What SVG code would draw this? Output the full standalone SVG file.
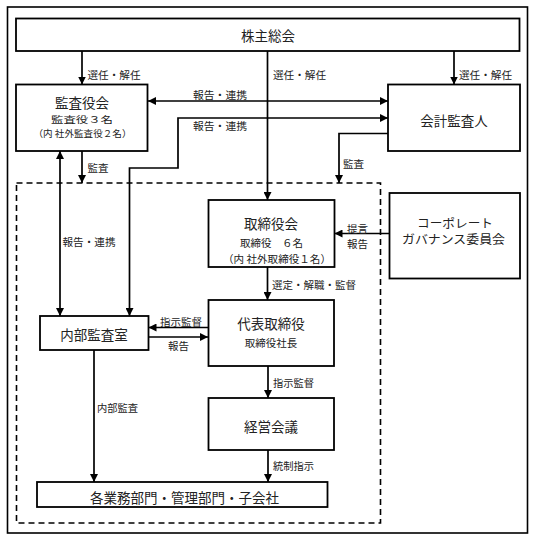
<svg xmlns="http://www.w3.org/2000/svg" width="535" height="542" viewBox="0 0 535 542">
<style>
.box{fill:#fff;stroke:#000;stroke-width:1.8}
.frame{fill:#fff;stroke:#000;stroke-width:1.6}
.dash{fill:none;stroke:#000;stroke-width:1.6;stroke-dasharray:6 4}
.ln{fill:none;stroke:#000;stroke-width:1.7}
text{font-family:"Noto Sans CJK JP","Noto Sans",sans-serif;fill:#222;dominant-baseline:central}
.t{font-size:13.5px;text-anchor:middle}
.s{font-size:10.5px;text-anchor:middle}
.l{font-size:10.5px}
</style>
<defs>
<marker id="ah" viewBox="0 0 10 10" refX="10" refY="5" markerWidth="8" markerHeight="8" markerUnits="userSpaceOnUse" orient="auto-start-reverse">
<path d="M0,0 L10,5 L0,10 z" fill="#000"/>
</marker>
</defs>
<rect class="frame" x="7.5" y="7" width="520" height="526"/>
<rect class="dash" x="16.5" y="183" width="364" height="340"/>

<g id="connectors">
<line class="ln" x1="82" y1="51" x2="82" y2="84.5" marker-end="url(#ah)"/>
<line class="ln" x1="267.5" y1="51" x2="267.5" y2="200" marker-end="url(#ah)"/>
<line class="ln" x1="454" y1="51" x2="454" y2="84.5" marker-end="url(#ah)"/>
<line class="ln" x1="148" y1="101" x2="388" y2="101" marker-start="url(#ah)" marker-end="url(#ah)"/>
<polyline class="ln" points="129.5,316 129.5,168 178,168 178,118 388,118" marker-start="url(#ah)" marker-end="url(#ah)"/>
<line class="ln" x1="60" y1="151" x2="60" y2="316" marker-start="url(#ah)" marker-end="url(#ah)"/>
<line class="ln" x1="82" y1="151" x2="82" y2="183" marker-end="url(#ah)"/>
<polyline class="ln" points="388,133.5 339,133.5 339,183" marker-end="url(#ah)"/>
<line class="ln" x1="389" y1="233.5" x2="334.5" y2="233.5" marker-end="url(#ah)"/>
<line class="ln" x1="267.5" y1="267" x2="267.5" y2="300" marker-end="url(#ah)"/>
<line class="ln" x1="208" y1="327.5" x2="148.5" y2="327.5" marker-end="url(#ah)"/>
<line class="ln" x1="148.5" y1="337" x2="208" y2="337" marker-end="url(#ah)"/>
<line class="ln" x1="268" y1="366" x2="268" y2="398" marker-end="url(#ah)"/>
<line class="ln" x1="268" y1="450" x2="268" y2="482" marker-end="url(#ah)"/>
<line class="ln" x1="94" y1="350" x2="94" y2="482" marker-end="url(#ah)"/>
<text class="l" x="87.5" y="74" textLength="53" lengthAdjust="spacingAndGlyphs">選任・解任</text>
<text class="l" x="273" y="74" textLength="53" lengthAdjust="spacingAndGlyphs">選任・解任</text>
<text class="l" x="459" y="74" textLength="53" lengthAdjust="spacingAndGlyphs">選任・解任</text>
<text class="l" x="193" y="94" textLength="54" lengthAdjust="spacingAndGlyphs">報告・連携</text>
<text class="l" x="193" y="125" textLength="54" lengthAdjust="spacingAndGlyphs">報告・連携</text>
<text class="l" x="87.5" y="167">監査</text>
<text class="l" x="343" y="163">監査</text>
<text class="l" x="62.5" y="241" textLength="53" lengthAdjust="spacingAndGlyphs">報告・連携</text>
<text class="l" x="347" y="228">提言</text>
<text class="l" x="347" y="243">報告</text>
<text class="l" x="272" y="284" textLength="84" lengthAdjust="spacingAndGlyphs">選定・解職・監督</text>
<text class="l" x="160" y="321" textLength="42" lengthAdjust="spacingAndGlyphs">指示監督</text>
<text class="l" x="168" y="345">報告</text>
<text class="l" x="273" y="382" textLength="41" lengthAdjust="spacingAndGlyphs">指示監督</text>
<text class="l" x="97" y="407" textLength="41" lengthAdjust="spacingAndGlyphs">内部監査</text>
<text class="l" x="273" y="465" textLength="41" lengthAdjust="spacingAndGlyphs">統制指示</text>
</g>

<g id="shareholders">
<rect class="box" x="16" y="18.5" width="503.5" height="32.5"/>
<text class="t" x="268" y="35">株主総会</text>
</g>
<g id="audit-board">
<rect class="box" x="16" y="84.5" width="131.5" height="66.5"/>
<text class="t" x="82" y="101.5">監査役会</text>
<text class="s" x="82" y="118.5" style="font-size:9.5px" textLength="62" lengthAdjust="spacingAndGlyphs">監査役３名</text>
<text class="s" x="82.5" y="133" style="font-size:9.5px" textLength="98" lengthAdjust="spacingAndGlyphs">（内 社外監査役２名）</text>
</g>
<g id="accounting-auditor">
<rect class="box" x="388" y="84.5" width="132" height="66.5"/>
<text class="t" x="454" y="120">会計監査人</text>
</g>
<g id="board">
<rect class="box" x="208.5" y="200" width="126" height="67"/>
<text class="t" x="271" y="223">取締役会</text>
<text class="s" x="271.5" y="242.5" textLength="63" lengthAdjust="spacingAndGlyphs">取締役　６名</text>
<text class="s" x="277" y="258.5" textLength="108" lengthAdjust="spacingAndGlyphs">（内 社外取締役１名）</text>
</g>
<g id="cg-committee">
<rect class="box" x="389.5" y="193" width="130.5" height="85.5"/>
<text class="t" x="455" y="222" style="font-size:12px" textLength="76" lengthAdjust="spacingAndGlyphs">コーポレート</text>
<text class="t" x="453.5" y="238.5" style="font-size:12px" textLength="103" lengthAdjust="spacingAndGlyphs">ガバナンス委員会</text>
</g>
<g id="internal-audit">
<rect class="box" x="40" y="316" width="108.5" height="34"/>
<text class="t" x="94" y="334">内部監査室</text>
</g>
<g id="representative">
<rect class="box" x="208.5" y="300" width="125.5" height="66"/>
<text class="t" x="271" y="323">代表取締役</text>
<text class="s" x="271" y="342">取締役社長</text>
</g>
<g id="management-meeting">
<rect class="box" x="208.5" y="398" width="125.5" height="52"/>
<text class="t" x="271" y="426">経営会議</text>
</g>
<g id="divisions">
<rect class="box" x="37" y="482" width="290.5" height="25"/>
<text class="t" x="184.5" y="497" textLength="189" lengthAdjust="spacingAndGlyphs">各業務部門・管理部門・子会社</text>
</g>
</svg>
